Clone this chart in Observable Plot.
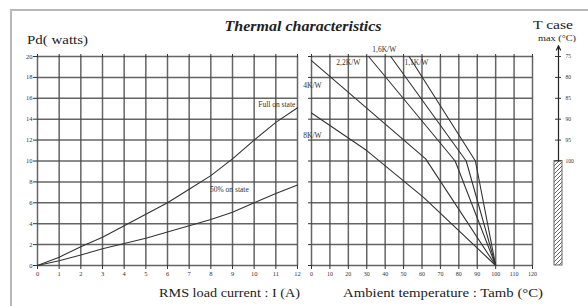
<!DOCTYPE html>
<html><head><meta charset="utf-8">
<script src="https://cdn.jsdelivr.net/npm/d3@7"></script>
<script src="https://cdn.jsdelivr.net/npm/@observablehq/plot@0.6"></script>
<style>
body{margin:0;background:#fff;}
#wrap{position:relative;width:588px;height:306px;overflow:hidden;background:#fff;}
#wrap > svg{position:absolute;left:0;top:0;}
#frame{position:absolute;left:10px;top:9px;width:700px;height:400px;border-top:2px solid #b8b8b8;border-left:2px solid #b8b8b8;}
</style></head><body><div id="wrap"><div id="frame"></div></div>
<script>
// ---------- data ----------
const currentA = [0,1,2,3,4,5,6,7,8,9,10,11,12];
const fullOnPd = [0,0.8,1.8,2.7,3.8,4.9,6.0,7.3,8.6,10.2,12.0,13.7,15.1];
const halfOnPd = [0,0.45,1.0,1.6,2.1,2.6,3.2,3.8,4.4,5.1,6.0,6.9,7.7];
const pdTicks = [0,2,4,6,8,10,12,14,16,18,20];
const tambTicks = [0,10,20,30,40,50,60,70,80,90,100,110,120];
const rthNames = ["8K/W","4K/W","2,2K/W","1,6K/W","1,1K/W"];
const rthTamb = [[0,30,61,100],[0,62,100],[31,78,100],[43,84,100],[53,89,100]];
const rthPd   = [[14.6,11.0,6.5,0],[19.6,10.2,0],[20,10,0],[20,10,0],[20,10,0]];
const rthLabelTamb = [0.5,0.5,20,39.5,57];
const rthLabelPd   = [12.4,17.2,19.4,20.7,19.4];
const curveNames = ["Full on state","50% on state"];
const curveLabelI  = [11.9,9.75];
const curveLabelPd = [15.4,7.3];
const tcaseTicks = [75,80,85,90,95,100];
const tcaseLimit = 125;
const tcaseArrowTop = 72.4;

// ---------- tables ----------
const leftRows = [
  ...currentA.map((a,i)=>({s:curveNames[0], i:a, pd:fullOnPd[i]})),
  ...currentA.map((a,i)=>({s:curveNames[1], i:a, pd:halfOnPd[i]}))
];
const rightRows = rthNames.flatMap((n,k)=>rthTamb[k].map((t,j)=>({rth:n, t, pd:rthPd[k][j]})));
const rthLabels = rthNames.map((n,k)=>({n, t:rthLabelTamb[k], pd:rthLabelPd[k]}));
const curveLabels = curveNames.map((n,k)=>({n, i:curveLabelI[k], pd:curveLabelPd[k]}));

const FONT = "'Liberation Serif', 'Times New Roman', 'DejaVu Serif', serif";
const GRID = {stroke:"#4a4a4a", strokeOpacity:0.85, strokeWidth:1.5};
const W = 588, H = 306, MT = 56, MB = 41;
const wrap = document.getElementById("wrap");

const left = Plot.plot({
  width: W, height: H, marginLeft: 37, marginRight: W-297, marginTop: MT, marginBottom: MB,
  x: {domain:[0,12]}, y: {domain:[0,20]},
  style: {fontFamily: FONT, background:"transparent", overflow:"visible"},
  marks: [
    Plot.gridX(currentA, GRID),
    Plot.gridY(pdTicks, GRID),
    Plot.axisX(currentA, {tickSize:4, tickPadding:2, fontSize:6.5, color:"#333", label:null}),
    Plot.axisX(currentA, {anchor:"top", tickSize:3, tickFormat:()=>"", color:"#333", label:null}),
    Plot.axisY(pdTicks, {tickSize:4, tickPadding:1, fontSize:6.5, color:"#333", label:null}),
    Plot.line(leftRows, {x:"i", y:"pd", z:"s", stroke:"#333", strokeWidth:1.1}),
    Plot.text(curveLabels, {x:"i", y:"pd", text:"n", textAnchor:"end", fontSize:7.5, fill:"#333"})
  ]
});
wrap.appendChild(left);

const right = Plot.plot({
  width: W, height: H, marginLeft: 311, marginRight: W-532, marginTop: MT, marginBottom: MB,
  x: {domain:[0,120]}, y: {domain:[0,20]},
  style: {fontFamily: FONT, background:"transparent", overflow:"visible"},
  marks: [
    Plot.gridX(tambTicks, GRID),
    Plot.gridY(pdTicks, GRID),
    Plot.axisX(tambTicks, {tickSize:4, tickPadding:2, fontSize:6, color:"#333", label:null}),
    Plot.axisX(tambTicks, {anchor:"top", tickSize:3, tickFormat:()=>"", color:"#333", label:null}),
    Plot.axisY(pdTicks, {tickSize:3, tickFormat:()=>"", color:"#333", label:null}),
    Plot.line(rightRows, {x:"t", y:"pd", z:"rth", stroke:"#333", strokeWidth:1.1}),
    Plot.text(rthLabels, {x:"t", y:"pd", text:"n", textAnchor:(d)=>d.t<5?"start":"middle", fontSize:7.5, fill:"#333"})
  ]
});
wrap.appendChild(right);

const thermo = Plot.plot({
  width: W, height: H, marginLeft: 554, marginRight: W-562, marginTop: MT, marginBottom: MB,
  x: {domain:[0,1], axis:null}, y: {domain:[tcaseLimit, 75], axis:null},
  style: {fontFamily: FONT, background:"transparent", overflow:"visible"},
  marks: [
    Plot.rect([{y1:d3.max(tcaseTicks), y2:tcaseLimit}], {x1:0, x2:1, y1:"y1", y2:"y2", fill:"url(#hatch)", stroke:"#666", strokeWidth:1}),
    Plot.arrow([{y1:d3.max(tcaseTicks), y2:tcaseArrowTop}], {x1:0.5, x2:0.5, y1:"y1", y2:"y2", stroke:"#222", strokeWidth:1.2, headLength:6, headAngle:50}),
    Plot.tickY(tcaseTicks, {y:d=>d, stroke:"#333", strokeWidth:1, inset:1}),
    Plot.text(tcaseTicks, {y:d=>d, x:1, dx:3, text:d=>String(d), textAnchor:"start", fontSize:5.5, fill:"#333"})
  ]
});
const ns = "http://www.w3.org/2000/svg";
const defs = document.createElementNS(ns, "defs");
defs.innerHTML = '<pattern id="hatch" width="4" height="4" patternUnits="userSpaceOnUse"><path d="M-1,1 L1,-1 M0,4 L4,0 M3,5 L5,3" stroke="#555" stroke-width="0.9"/></pattern>';
thermo.insertBefore(defs, thermo.firstChild);
wrap.appendChild(thermo);

// ---------- titles & axis labels ----------
const ov = document.createElementNS(ns, "svg");
ov.setAttribute("width", W); ov.setAttribute("height", H);
ov.style.fontFamily = FONT;
function addText(str, x, y, size, opts={}) {
  const t = document.createElementNS(ns, "text");
  t.textContent = str;
  t.setAttribute("x", x); t.setAttribute("y", y);
  t.setAttribute("font-size", size);
  t.setAttribute("fill", opts.fill || "#222");
  t.setAttribute("text-anchor", opts.anchor || "start");
  if (opts.weight) t.setAttribute("font-weight", opts.weight);
  if (opts.style) t.setAttribute("font-style", opts.style);
  if (opts.len) { t.setAttribute("textLength", opts.len); t.setAttribute("lengthAdjust", "spacingAndGlyphs"); }
  ov.appendChild(t);
}
addText("Thermal characteristics", 303, 31, 14, {anchor:"middle", weight:"bold", style:"italic", len:157});
addText("Pd( watts)", 27, 44, 13, {len:61});
addText("T case", 553, 29, 12, {anchor:"middle", len:40});
addText("max (°C)", 557, 41, 9, {anchor:"middle", len:38});
addText("RMS load current : I (A)", 159, 297, 13, {len:141});
addText("Ambient temperature : Tamb (°C)", 343, 297, 13, {len:200});
wrap.appendChild(ov);
</script>
</body></html>
